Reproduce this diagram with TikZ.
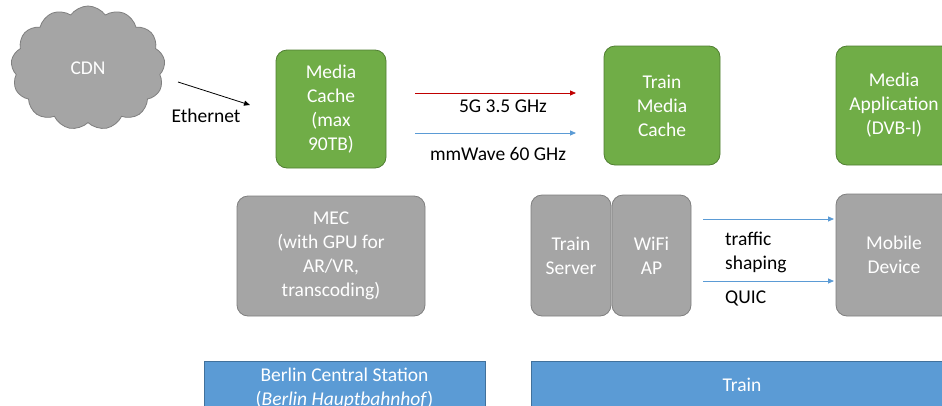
\documentclass[tikz,border=0pt]{standalone}
\usepackage{fontspec}
\setmainfont{Carlito}
\usetikzlibrary{shapes.symbols,arrows.meta}
\definecolor{boxgreen}{HTML}{70AD47}
\definecolor{boxgreenline}{HTML}{507E32}
\definecolor{boxgray}{HTML}{A5A5A5}
\definecolor{boxgrayline}{HTML}{7F7F7F}
\definecolor{bandblue}{HTML}{5B9BD5}
\definecolor{bandblueline}{HTML}{41719C}
\definecolor{linkred}{HTML}{C00000}
\definecolor{linkblue}{HTML}{5B9BD5}
\tikzset{
  every node/.style={font=\fontsize{19.5}{24}\selectfont},
  roundbox/.style={rectangle, rounded corners=11pt, line width=0.8pt, align=center, text=white, inner sep=0pt},
  greenbox/.style={roundbox, fill=boxgreen, draw=boxgreenline},
  graybox/.style={roundbox, fill=boxgray, draw=boxgrayline},
  band/.style={rectangle, fill=bandblue, draw=bandblueline, line width=0.6pt},
  tip/.style={-{Triangle[length=6pt,width=5pt]}, line width=0.8pt},
  lbl/.style={text=black, align=left, inner sep=0pt},
}
\begin{document}
\begin{tikzpicture}[x=1pt,y=-1pt]
\clip (0,0) rectangle (942,405);
\fill[white] (0,0) rectangle (942,405);

% content delivery network cloud
\node[cloud, cloud puffs=13, cloud puff arc=110, aspect=1.25, fill=boxgray, draw=boxgrayline,
      line width=0.8pt, minimum width=154pt, minimum height=124pt, text=white] (cdn) at (88,68) {CDN};

% top row
\node[greenbox, minimum width=110pt, minimum height=118pt] (mc) at (331,109) {Media\\Cache\\(max\\90TB)};
\node[greenbox, minimum width=116pt, minimum height=119pt] (tmc) at (662,105.5) {Train\\Media\\Cache};
\node[greenbox, minimum width=116pt, minimum height=119pt] (app) at (894,105.5) {Media\\Application\\(DVB-I)};

% second row
\node[graybox, minimum width=188pt, minimum height=120pt] (mec) at (331,256) {MEC\\(with GPU for\\AR/VR,\\transcoding)};
\node[graybox, minimum width=80pt, minimum height=121pt] (srv) at (571,255.5) {Train\\Server};
\node[graybox, minimum width=79pt, minimum height=121pt] (wifi) at (651.5,255.5) {WiFi\\AP};
\node[graybox, minimum width=116pt, minimum height=122pt] (mob) at (894,255) {Mobile\\Device};

% location bands
\node[band, minimum width=281pt, minimum height=70pt] (berlin) at (344.5,396) {};
\node[text=white, align=center, inner sep=0pt] (berlintxt) at (344.5,388)
  {Berlin Central Station\\(\textit{Berlin Hauptbahnhof})};
\node[band, minimum width=422pt, minimum height=48pt] (train) at (742,385) {};
\node[text=white, inner sep=0pt] (traintxt) at (742,385) {Train};

% links
\coordinate (eth1) at (178,82);
\coordinate (eth2) at (250,105);
\draw[tip, black] (eth1) -- (eth2);
\node[lbl] (ethl) at (206,116) {Ethernet};

\coordinate (r1) at (415,93);
\coordinate (r2) at (576,93);
\draw[tip, linkred] (r1) -- (r2);
\node[lbl] (rl) at (503,106) {5G 3.5 GHz};

\coordinate (b1) at (415,133);
\coordinate (b2) at (576,133);
\draw[tip, linkblue] (b1) -- (b2);
\node[lbl] (bl) at (498,154) {mmWave 60 GHz};

\coordinate (t1) at (703,219);
\coordinate (t2) at (834,219);
\draw[tip, linkblue] (t1) -- (t2);
\coordinate (q1) at (703,281);
\coordinate (q2) at (834,281);
\draw[tip, linkblue] (q1) -- (q2);
\node[lbl, anchor=west] (tl) at (725,252) {traffic\\shaping};
\node[lbl, anchor=west] (ql) at (725,298) {QUIC};
\end{tikzpicture}
\end{document}
